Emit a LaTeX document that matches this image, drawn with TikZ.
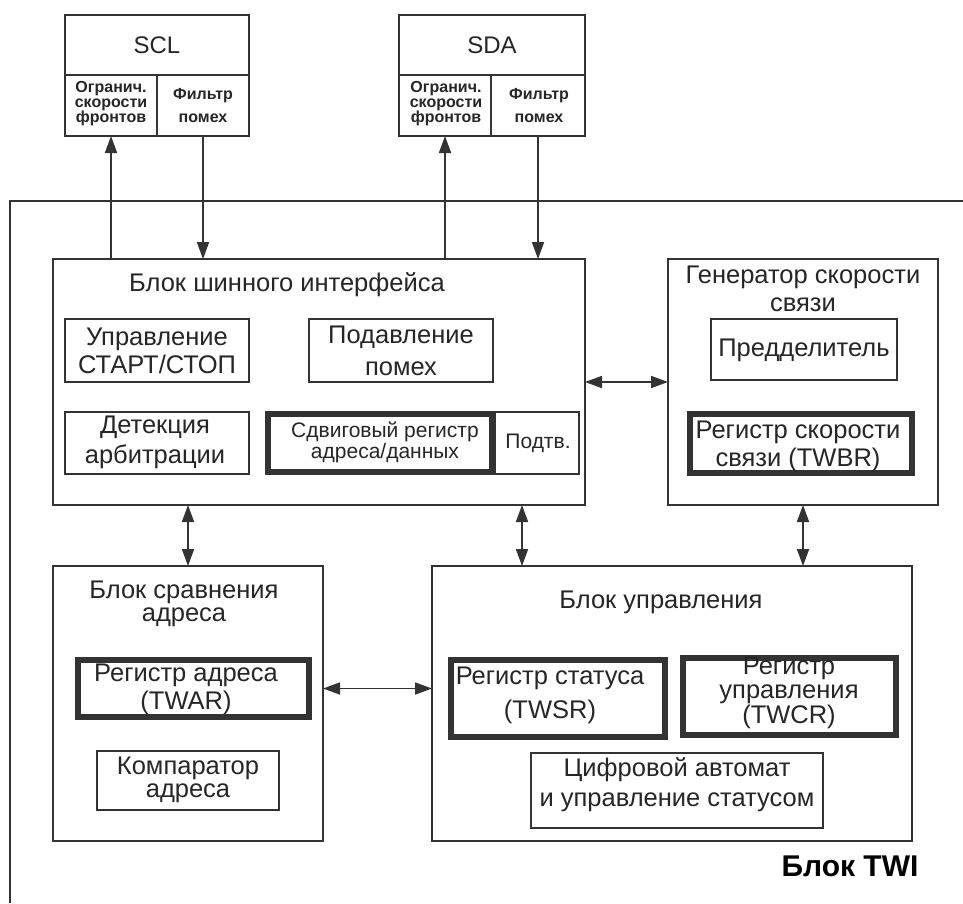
\documentclass[tikz,border=0pt]{standalone}
\usepackage{fontspec}
\setmainfont{Liberation Sans}
\usetikzlibrary{arrows.meta,calc}
\definecolor{lc}{HTML}{333333}
\begin{document}
\begin{tikzpicture}[x=1pt,y=-1pt,
  box/.style={draw=lc, line width=1.8pt, inner sep=0pt, outer sep=0pt, rectangle},
  tbox/.style={box, line width=6pt},
  txt/.style={font=\fontsize{25.5}{28}\selectfont, align=center, inner sep=0pt, text=black!85},
  small/.style={font=\fontsize{16}{15}\selectfont\bfseries, align=center, inner sep=0pt, text=black!85},
  arr/.style={draw=lc, line width=1.8pt, -{Triangle[length=17pt,width=12pt]}},
  darr/.style={draw=lc, line width=1.8pt, {Triangle[length=17pt,width=12pt]}-{Triangle[length=17pt,width=12pt]}}]
\useasboundingbox[fill=white] (0,0) rectangle (963,903);

% outer TWI frame (open on right and bottom)
\draw[lc, line width=1.8pt] (10,903) -- (10,201) -- (963,201);

% SCL
\node[box, minimum width=184pt, minimum height=60pt] (sclt) at (157,45) {};
\node[box, minimum width=92pt, minimum height=61pt] (scla) at (111,105.5) {};
\node[box, minimum width=92pt, minimum height=61pt] (sclb) at (203,105.5) {};
\node[txt, font=\fontsize{24}{28}\selectfont] (sclx) at (157,45) {SCL};
\node[small] (sclax) at (111,104) {Огранич.\\скорости\\фронтов};
\node[small, font=\fontsize{16}{23}\selectfont\bfseries] (sclbx) at (203,106) {Фильтр\\помех};

% SDA
\node[box, minimum width=186pt, minimum height=60pt] (sdat) at (492,45) {};
\node[box, minimum width=92pt, minimum height=61pt] (sdaa) at (445,105.5) {};
\node[box, minimum width=94pt, minimum height=61pt] (sdab) at (538,105.5) {};
\node[txt, font=\fontsize{24}{28}\selectfont] (sdax) at (492,45) {SDA};
\node[small] (sdaax) at (446,104) {Огранич.\\скорости\\фронтов};
\node[small, font=\fontsize{16}{23}\selectfont\bfseries] (sdabx) at (539,106) {Фильтр\\помех};

% Bus interface block
\node[box, minimum width=532pt, minimum height=246pt] (bus) at (319,382) {};
\node[txt] (bust) at (287,285) {Блок шинного интерфейса};
\node[box, minimum width=184pt, minimum height=63pt] (ss) at (157,350.5) {};
\node[txt] (sst) at (157,351) {Управление\\СТАРТ/СТОП};
\node[box, minimum width=184pt, minimum height=63pt] (ns) at (401,350.5) {};
\node[txt, font=\fontsize{25.5}{32}\selectfont] (nst) at (401,351) {Подавление\\помех};
\node[box, minimum width=184pt, minimum height=62pt] (arb) at (157,443) {};
\node[txt, font=\fontsize{25.5}{30}\selectfont] (arbt) at (155,442) {Детекция\\арбитрации};
\node[box, minimum width=84pt, minimum height=62pt] (ack) at (537,443) {};
\node[txt, font=\fontsize{21}{24}\selectfont] (ackt) at (538,443) {Подтв.};
\node[tbox, minimum width=224pt, minimum height=58pt] (shr) at (380,443) {};
\node[txt, font=\fontsize{21}{19}\selectfont] (shrt) at (385,442.5) {Сдвиговый регистр\\адреса/данных};

% Bit rate generator
\node[box, minimum width=270pt, minimum height=246pt] (gen) at (803,382) {};
\node[txt] (gent) at (803,289) {Генератор скорости\\связи};
\node[box, minimum width=186pt, minimum height=61pt] (pre) at (804,349.5) {};
\node[txt] (pret) at (804,350) {Предделитель};
\node[tbox, minimum width=222pt, minimum height=59pt] (twbr) at (801,443.5) {};
\node[txt] (twbrt) at (798,446) {Регистр скорости\\связи (TWBR)};

% Address match unit
\node[box, minimum width=270pt, minimum height=275pt] (addr) at (188,703.5) {};
\node[txt, font=\fontsize{25.5}{23}\selectfont] (addrt) at (184,603.5) {Блок сравнения\\адреса};
\node[tbox, minimum width=231pt, minimum height=57pt] (twar) at (193.5,688.5) {};
\node[txt] (twart) at (186,689) {Регистр адреса\\(TWAR)};
\node[box, minimum width=182pt, minimum height=59pt] (cmp) at (188,780.5) {};
\node[txt, font=\fontsize{25.5}{23}\selectfont] (cmpt) at (188,779.5) {Компаратор\\адреса};

% Control unit
\node[box, minimum width=480pt, minimum height=275pt] (ctrl) at (672,703.5) {};
\node[txt] (ctrlt) at (661,602) {Блок управления};
\node[tbox, minimum width=214pt, minimum height=77pt] (twsr) at (558,698.5) {};
\node[txt, font=\fontsize{25.5}{34}\selectfont] (twsrt) at (550,695) {Регистр статуса\\(TWSR)};
\node[tbox, minimum width=213pt, minimum height=77pt] (twcr) at (789.5,696.5) {};
\node[txt, font=\fontsize{25.5}{24.5}\selectfont] (twcrt) at (789,692.5) {Регистр\\управления\\(TWCR)};
\node[box, minimum width=292pt, minimum height=75pt] (fsm) at (677,790.5) {};
\node[txt, font=\fontsize{25.5}{30}\selectfont] (fsmt) at (677,785) {Цифровой автомат\\и управление статусом};

\node[txt, font=\fontsize{30}{32}\selectfont\bfseries, text=black] (twi) at (850,866) {Блок TWI};

% connectors
\draw[arr] (scla.south |- bus.north) -- (scla.south);
\draw[arr] (sclb.south) -- (sclb.south |- bus.north);
\draw[arr] (sdaa.south |- bus.north) -- (sdaa.south);
\draw[arr] (sdab.south) -- (sdab.south |- bus.north);
\draw[darr] (bus.east) -- (gen.west);
\draw[darr] (bus.south -| addr.north) -- (addr.north);
\coordinate (bc) at ($(bus.south east)+(-63,0)$);
\draw[darr] (bc) -- (bc |- ctrl.north);
\draw[darr] (gen.south) -- (gen.south |- ctrl.north);
\draw[darr] (addr.east |- twar.center) -- (ctrl.west |- twar.center);
\end{tikzpicture}
\end{document}
